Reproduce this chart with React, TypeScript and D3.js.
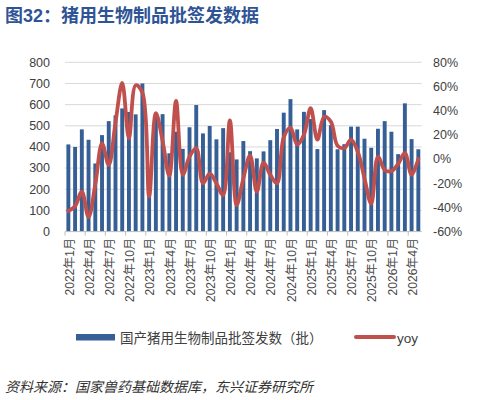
import React, { useEffect, useRef } from 'react';
import * as d3 from 'd3';

// monthly categories, 2022-01 .. 2026-05
const months = [
  '2022年1月', '2022年2月', '2022年3月', '2022年4月', '2022年5月', '2022年6月',
  '2022年7月', '2022年8月', '2022年9月', '2022年10月', '2022年11月', '2022年12月',
  '2023年1月', '2023年2月', '2023年3月', '2023年4月', '2023年5月', '2023年6月',
  '2023年7月', '2023年8月', '2023年9月', '2023年10月', '2023年11月', '2023年12月',
  '2024年1月', '2024年2月', '2024年3月', '2024年4月', '2024年5月', '2024年6月',
  '2024年7月', '2024年8月', '2024年9月', '2024年10月', '2024年11月', '2024年12月',
  '2025年1月', '2025年2月', '2025年3月', '2025年4月', '2025年5月', '2025年6月',
  '2025年7月', '2025年8月', '2025年9月', '2025年10月', '2025年11月', '2025年12月',
  '2026年1月', '2026年2月', '2026年3月', '2026年4月', '2026年5月',
];

// batches issued per month
const batches = [
  412, 400, 483, 434, 322, 456, 522, 549, 582, 565, 554, 700,
  284, 552, 555, 370, 472, 391, 493, 598, 464, 499, 436, 489,
  375, 341, 428, 380, 346, 379, 432, 485, 562, 626, 483, 566,
  532, 390, 574, 503, 389, 413, 496, 496, 439, 396, 486, 522,
  472, 366, 606, 437, 389,
];

// year-over-year change, %
const yoy = [
  -43, -39, -27, -48, -21, 13, -5, 30, 63, 17, 61, 55,
  -31, 38, 15, -14, 48, -13, 2, 9, -20, -12, -20, -30,
  32, -38, -16, 3, -27, -3, -13, -20, 18, 26, 12, 20,
  42, 16, 35, 31, 11, 9, 16, 6, -16, -37, 2, -9,
  -10, -4, 5, -13, 0,
];

const leftTicks = [0, 100, 200, 300, 400, 500, 600, 700, 800];
const rightTicks = [-60, -40, -20, 0, 20, 40, 60, 80];

const barLabel = '国产猪用生物制品批签发数（批）';
const lineLabel = 'yoy';

const FONT = "'Liberation Sans', Arial, 'Noto Sans CJK SC', sans-serif";
const BAR = '#365f96';
const RED = '#c0504d';

const App: React.FC = () => {
  const svgRef = useRef<SVGSVGElement>(null);

  useEffect(() => {
    if (!svgRef.current) return;
    const svg = d3.select(svgRef.current);
    svg.selectAll('*').remove();

    const left = 65, right = 421.7, top = 62.3, bottom = 231.6;

    const x = d3.scaleBand<string>()
      .domain(months)
      .range([left, right])
      .paddingInner(0.42)
      .paddingOuter(0.21);
    const step = x.step();
    const cx = (m: string) => (x(m) || 0) + x.bandwidth() / 2;

    const yL = d3.scaleLinear().domain([0, 800]).range([bottom, top]);
    const yR = d3.scaleLinear().domain([-60, 80]).range([bottom, top]);

    // title
    svg.append('text')
      .attr('x', 5).attr('y', 22)
      .attr('font-family', FONT)
      .attr('font-size', 18).attr('font-weight', 'bold')
      .attr('fill', '#2f5496')
      .text('图32：猪用生物制品批签发数据');

    // gridlines
    svg.append('g').selectAll('line')
      .data(leftTicks.filter(d => d > 0))
      .enter().append('line')
      .attr('x1', left).attr('x2', right)
      .attr('y1', d => yL(d)).attr('y2', d => yL(d))
      .attr('stroke', '#d9d9d9').attr('stroke-width', 1);

    // left axis labels
    svg.append('g').selectAll('text')
      .data(leftTicks)
      .enter().append('text')
      .attr('x', 50).attr('y', d => yL(d))
      .attr('dy', '0.35em')
      .attr('text-anchor', 'end')
      .attr('font-family', FONT).attr('font-size', 12.5)
      .attr('fill', '#404040')
      .text(d => d);

    // right axis labels
    svg.append('g').selectAll('text')
      .data(rightTicks)
      .enter().append('text')
      .attr('x', 433).attr('y', d => yR(d))
      .attr('dy', '0.35em')
      .attr('font-family', FONT).attr('font-size', 12.5)
      .attr('fill', '#404040')
      .text(d => `${d}%`);

    // bars
    svg.append('g').selectAll('rect')
      .data(batches)
      .enter().append('rect')
      .attr('x', (_, i) => x(months[i]) || 0)
      .attr('y', d => yL(d))
      .attr('width', x.bandwidth())
      .attr('height', d => bottom - yL(d))
      .attr('fill', BAR);

    // x axis line + ticks
    svg.append('line')
      .attr('x1', left).attr('x2', right)
      .attr('y1', bottom).attr('y2', bottom)
      .attr('stroke', '#bfbfbf').attr('stroke-width', 1);

    const labelled = months.filter((_, i) => i % 3 === 0);
    svg.append('g').selectAll('line')
      .data(labelled)
      .enter().append('line')
      .attr('x1', d => cx(d) - step / 2).attr('x2', d => cx(d) - step / 2)
      .attr('y1', bottom).attr('y2', bottom + 4)
      .attr('stroke', '#bfbfbf');

    svg.append('g').selectAll('text')
      .data(labelled)
      .enter().append('text')
      .attr('transform', d => `translate(${cx(d) + 1},238) rotate(-90)`)
      .attr('dy', '0.35em')
      .attr('text-anchor', 'end')
      .attr('font-family', FONT).attr('font-size', 12)
      .attr('fill', '#4a4a4a')
      .text(d => d);

    // yoy line
    const line = d3.line<number>()
      .x((_, i) => cx(months[i]))
      .y(d => yR(d))
      .curve(d3.curveCatmullRom.alpha(0.5));

    svg.append('path')
      .datum(yoy)
      .attr('d', line)
      .attr('fill', 'none')
      .attr('stroke', RED)
      .attr('stroke-width', 3.8)
      .attr('stroke-linecap', 'round')
      .attr('stroke-linejoin', 'round');

    // legend
    svg.append('rect')
      .attr('x', 76).attr('y', 334)
      .attr('width', 39).attr('height', 6.5)
      .attr('fill', BAR);
    svg.append('text')
      .attr('x', 120).attr('y', 342.5)
      .attr('font-family', FONT).attr('font-size', 13.5)
      .attr('fill', '#404040')
      .text(barLabel);
    svg.append('line')
      .attr('x1', 356).attr('x2', 394)
      .attr('y1', 337).attr('y2', 337)
      .attr('stroke', RED).attr('stroke-width', 4)
      .attr('stroke-linecap', 'round');
    svg.append('text')
      .attr('x', 397).attr('y', 342.5)
      .attr('font-family', FONT).attr('font-size', 13.5)
      .attr('fill', '#404040')
      .text(lineLabel);

    // source note
    svg.append('text')
      .attr('x', 5).attr('y', 392)
      .attr('font-family', FONT).attr('font-size', 14)
      .attr('font-style', 'italic')
      .attr('fill', '#333')
      .text('资料来源：国家兽药基础数据库，东兴证券研究所');
  }, []);

  return (
    <svg
      ref={svgRef}
      width={480}
      height={400}
      style={{ position: 'absolute', left: 0, top: 0, background: '#fff' }}
    />
  );
};

export default App;
